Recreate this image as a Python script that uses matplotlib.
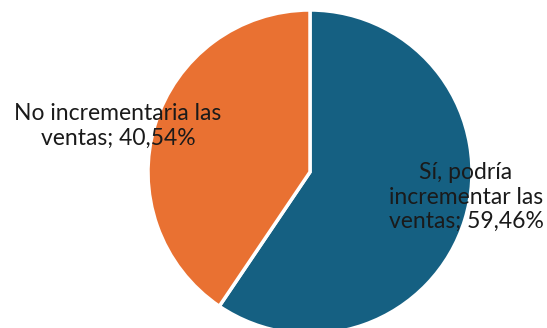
import matplotlib.pyplot as plt

categorias = ['Sí, podría\nincrementar las\nventas; 59,46%', 'No incrementaria las\nventas; 40,54%']
valores = [59.46, 40.54]
colores = ['#156082', '#E97132']

W, H = 547, 328

fig = plt.figure(figsize=(W / 100, H / 100), dpi=100)
ax = fig.add_axes([0, 0, 1, 1])

ax.pie(valores, colors=colores, startangle=90, counterclock=False,
       radius=162, center=(310, H - 172), frame=True,
       wedgeprops=dict(edgecolor='white', linewidth=2.5))
ax.set_xlim(0, W)
ax.set_ylim(0, H)
ax.set_aspect('equal')
ax.axis('off')

# etiquetas de datos
fuente = dict(fontsize=16.5, family=['Lato', 'DejaVu Sans'], color='#1a1a1a',
              ha='center', va='center', linespacing=1.2)
ax.text(466, H - 197, categorias[0], **fuente)
ax.text(118, H - 126, categorias[1], **fuente)

plt.savefig('out.png', dpi=100)
